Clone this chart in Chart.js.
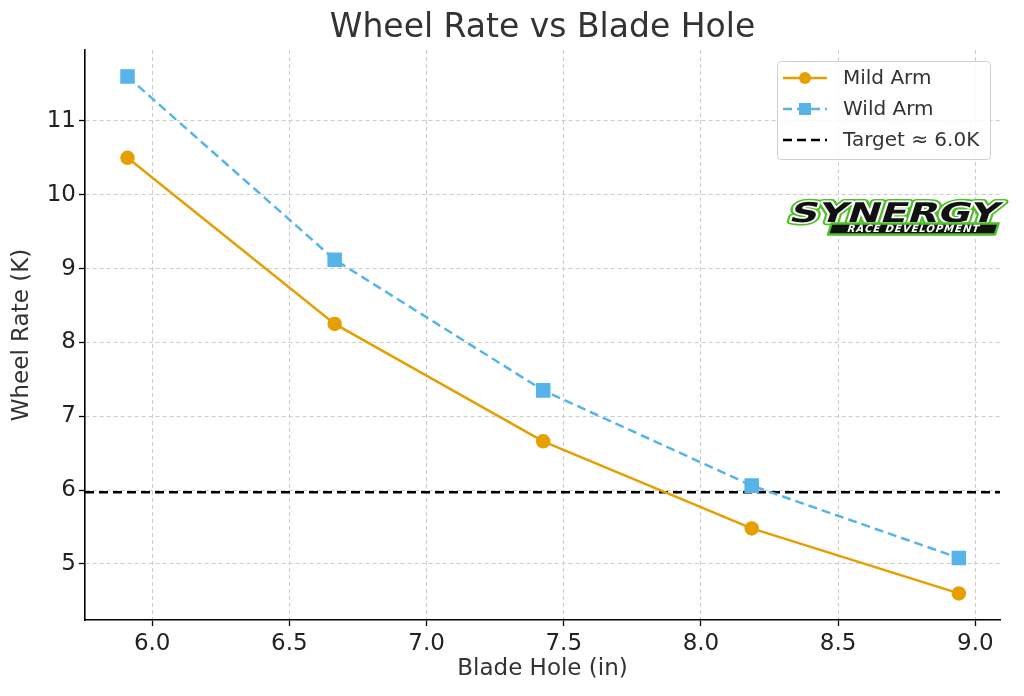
<!DOCTYPE html>
<html>
<head>
<meta charset="utf-8">
<script src="https://cdn.jsdelivr.net/npm/chart.js@4.4.1/dist/chart.umd.min.js"></script>
<style>
html,body{margin:0;padding:0;background:#fff;}
#wrap{width:1024px;height:696px;}
</style>
</head>
<body>
<div id="wrap"><canvas id="c" width="1024" height="696"></canvas></div>
<script>
// ---- data ----
const bladeHoles = [5.91, 6.665, 7.425, 8.185, 8.94];
const mildArm = [10.5, 8.25, 6.66, 5.48, 4.6];
const wildArm = [11.6, 9.12, 7.35, 6.06, 5.08];
const targetRate = 5.97;
const xTicks = [6.0, 6.5, 7.0, 7.5, 8.0, 8.5, 9.0];
const yTicks = [5, 6, 7, 8, 9, 10, 11];
const X_MIN = 5.755, X_MAX = 9.09;
const Y_MIN = 4.24, Y_MAX = 11.96;
const seriesNames = ['Mild Arm', 'Wild Arm', 'Target \u2248 6.0K'];
const chartTitle = 'Wheel Rate vs Blade Hole';

const ORANGE = '#E69F00', BLUE = '#56B4E9';
const FONT = "'DejaVu Sans', sans-serif";

const toPts = (ys) => bladeHoles.map((x, i) => ({x: x, y: ys[i]}));

const titlePlugin = {
  id: 'axesTitle',
  afterDraw(chart) {
    const ctx = chart.ctx, a = chart.chartArea;
    ctx.save();
    ctx.font = "33px " + FONT;
    ctx.fillStyle = '#333';
    ctx.textAlign = 'center';
    ctx.textBaseline = 'middle';
    ctx.fillText(chartTitle, (a.left + a.right) / 2, 28);
    ctx.restore();
  }
};

const legendPlugin = {
  id: 'customLegend',
  afterDraw(chart) {
    const ctx = chart.ctx;
    ctx.save();
    const bx = 777.5, by = 61.5, bw = 213, bh = 98;
    ctx.fillStyle = 'rgba(255,255,255,0.85)';
    ctx.strokeStyle = '#d0d0d0';
    ctx.lineWidth = 1;
    ctx.beginPath();
    ctx.roundRect(bx, by, bw, bh, 4);
    ctx.fill();
    ctx.stroke();
    const rows = [78, 109, 140];
    const x1 = 783, x2 = 827, xm = 805;
    ctx.font = "20px " + FONT;
    ctx.textBaseline = 'middle';
    ctx.strokeStyle = ORANGE; ctx.lineWidth = 2.5; ctx.setLineDash([]);
    ctx.beginPath(); ctx.moveTo(x1, rows[0]); ctx.lineTo(x2, rows[0]); ctx.stroke();
    ctx.fillStyle = ORANGE; ctx.beginPath(); ctx.arc(xm, rows[0], 6, 0, Math.PI*2); ctx.fill();
    ctx.strokeStyle = BLUE; ctx.setLineDash([9, 5]);
    ctx.beginPath(); ctx.moveTo(x1, rows[1]); ctx.lineTo(x2, rows[1]); ctx.stroke();
    ctx.setLineDash([]);
    ctx.fillStyle = BLUE; ctx.fillRect(xm - 6, rows[1] - 6, 12, 12);
    ctx.strokeStyle = '#000'; ctx.setLineDash([9, 5]);
    ctx.beginPath(); ctx.moveTo(x1, rows[2]); ctx.lineTo(x2, rows[2]); ctx.stroke();
    ctx.setLineDash([]);
    ctx.fillStyle = '#333';
    seriesNames.forEach((n, i) => ctx.fillText(n, 843, rows[i] + 1));
    ctx.restore();
  }
};

const logoPlugin = {
  id: 'logo',
  afterDraw(chart) {
    const ctx = chart.ctx;
    const GREEN = '#4fbf2a';
    ctx.save();
    ctx.translate(788, 222);
    ctx.transform(1, 0, -0.32, 1, 0, 0);
    ctx.lineJoin = 'round';
    // main word
    ctx.font = "bold 34px " + FONT;
    ctx.textAlign = 'left';
    ctx.textBaseline = 'alphabetic';
    ctx.save();
    ctx.scale(1.17, 0.8);
    ctx.strokeStyle = GREEN; ctx.lineWidth = 8;
    ctx.strokeText('SYNERGY', 0, 0);
    ctx.strokeStyle = '#fff'; ctx.lineWidth = 4;
    ctx.strokeText('SYNERGY', 0, 0);
    ctx.fillStyle = '#111';
    ctx.fillText('SYNERGY', 0, 0);
    ctx.restore();
    // lower band
    ctx.fillStyle = '#111';
    ctx.strokeStyle = GREEN;
    ctx.lineWidth = 2.5;
    ctx.beginPath();
    ctx.rect(44, 1.5, 167, 11);
    ctx.fill(); ctx.stroke();
    ctx.font = "bold 10px " + FONT;
    ctx.fillStyle = '#fff';
    ctx.textBaseline = 'middle';
    ctx.textAlign = 'center';
    try { ctx.letterSpacing = '1px'; } catch (e) {}
    ctx.fillText('RACE DEVELOPMENT', 128, 7.5);
    ctx.restore();
  }
};

const gridCommon = {
  color: '#cccccc',
  lineWidth: 1,
  tickColor: '#000',
  tickWidth: 1.3,
  tickLength: 6,
  tickBorderDash: []
};

new Chart(document.getElementById('c'), {
  type: 'line',
  data: {
    datasets: [
      {
        label: seriesNames[0],
        data: toPts(mildArm),
        borderColor: ORANGE,
        backgroundColor: ORANGE,
        borderWidth: 2.5,
        pointStyle: 'circle',
        pointRadius: 6,
        pointHoverRadius: 6,
        tension: 0,
        fill: false
      },
      {
        label: seriesNames[1],
        data: toPts(wildArm),
        borderColor: BLUE,
        backgroundColor: BLUE,
        borderWidth: 2.5,
        borderDash: [9, 5],
        pointStyle: 'rect',
        pointRadius: 8.5,
        pointHoverRadius: 8.5,
        tension: 0,
        fill: false
      },
      {
        label: seriesNames[2],
        data: [{x: X_MIN, y: targetRate}, {x: X_MAX, y: targetRate}],
        borderColor: '#000',
        borderWidth: 2.5,
        borderDash: [9, 5],
        pointRadius: 0,
        fill: false
      }
    ]
  },
  options: {
    responsive: false,
    animation: false,
    events: [],
    layout: {padding: {left: 0, right: 24, top: 50, bottom: 0}},
    plugins: {
      legend: {display: false},
      tooltip: {enabled: false},
      title: {display: false}
    },
    scales: {
      x: {
        type: 'linear',
        min: X_MIN, max: X_MAX,
        afterBuildTicks: (s) => { s.ticks = xTicks.map(v => ({value: v})); },
        afterFit: (s) => { s.height = 76; },
        grid: Object.assign({}, gridCommon),
        border: {display: true, color: '#000', width: 1.6, dash: [4, 3]},
        ticks: {
          color: '#222',
          font: {family: FONT, size: 23},
          padding: 4,
          callback: (v) => Number(v).toFixed(1)
        },
        title: {
          display: true,
          text: 'Blade Hole (in)',
          color: '#333',
          font: {family: FONT, size: 23},
          padding: {top: 0, bottom: 13}
        }
      },
      y: {
        type: 'linear',
        min: Y_MIN, max: Y_MAX,
        afterBuildTicks: (s) => { s.ticks = yTicks.map(v => ({value: v})); },
        afterFit: (s) => { s.width = 85; },
        grid: Object.assign({}, gridCommon),
        border: {display: true, color: '#000', width: 1.6, dash: [4, 3]},
        ticks: {
          color: '#222',
          font: {family: FONT, size: 23},
          padding: 3,
          callback: (v) => String(v)
        },
        title: {
          display: true,
          text: 'Wheel Rate (K)',
          color: '#333',
          font: {family: FONT, size: 23},
          padding: {top: 8, bottom: 0}
        }
      }
    }
  },
  plugins: [titlePlugin, legendPlugin, logoPlugin]
});
</script>
</body>
</html>
